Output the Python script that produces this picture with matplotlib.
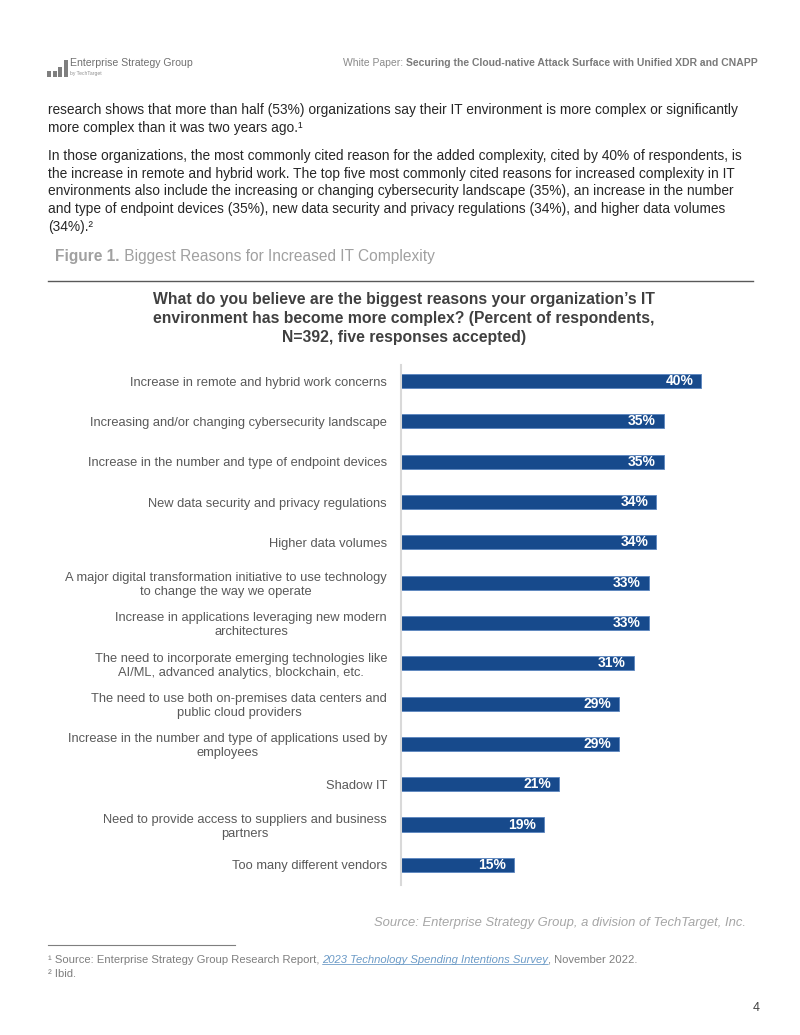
import matplotlib.pyplot as plt
from matplotlib.patches import Rectangle

plt.rcParams['font.family'] = ['Liberation Sans', 'DejaVu Sans']

# Chart data
reasons = [
    'Increase in remote and hybrid work concerns',
    'Increasing and/or changing cybersecurity landscape',
    'Increase in the number and type of endpoint devices',
    'New data security and privacy regulations',
    'Higher data volumes',
    'A major digital transformation initiative to use technology\nto change the way we operate',
    'Increase in applications leveraging new modern\narchitectures',
    'The need to incorporate emerging technologies like\nAI/ML, advanced analytics, blockchain, etc.',
    'The need to use both on-premises data centers and\npublic cloud providers',
    'Increase in the number and type of applications used by\nemployees',
    'Shadow IT',
    'Need to provide access to suppliers and business\npartners',
    'Too many different vendors',
]
percents = [40, 35, 35, 34, 34, 33, 33, 31, 29, 29, 21, 19, 15]

chart_title = ("What do you believe are the biggest reasons your organization\u2019s IT\n"
               "environment has become more complex? (Percent of respondents,\n"
               "N=392, five responses accepted)")

para1 = ["research shows that more than half (53%) organizations say their IT environment is more complex or significantly",
         "more complex than it was two years ago.\u00b9"]
para2 = ["In those organizations, the most commonly cited reason for the added complexity, cited by 40% of respondents, is",
         "the increase in remote and hybrid work. The top five most commonly cited reasons for increased complexity in IT",
         "environments also include the increasing or changing cybersecurity landscape (35%), an increase in the number",
         "and type of endpoint devices (35%), new data security and privacy regulations (34%), and higher data volumes",
         "(34%).\u00b2"]

W, H = 800, 1035
fig = plt.figure(figsize=(W / 100, H / 100), dpi=100)
page = fig.add_axes([0, 0, 1, 1])
page.axis('off')
page.set_xlim(0, W)
page.set_ylim(H, 0)

dark = '#262626'
bar_col = '#174a8c'

# header logo
for x0, y0, h in [(47, 71, 6), (52.5, 71, 6), (58, 67, 10), (63.5, 60, 17)]:
    page.add_patch(Rectangle((x0, y0), 4, h, color='#7f7f7f', lw=0))
page.text(70, 63, 'Enterprise Strategy Group', fontsize=7.6, color='#707070', va='center')
page.text(70, 74, 'by TechTarget', fontsize=3.6, color='#909090', va='center')

hb = page.text(758, 63, 'Securing the Cloud-native Attack Surface with Unified XDR and CNAPP',
               fontsize=7.5, color='#7a7a7a', weight='bold', ha='right', va='center')
page.annotate('White Paper: ', xy=(0, 0.5), xycoords=hb, ha='right', va='center',
              fontsize=7.5, color='#8a8a8a', annotation_clip=False)

# body text
for i, line in enumerate(para1):
    page.text(48, 110 + i * 17.8, line, fontsize=9.9, color=dark, va='center')
for i, line in enumerate(para2):
    page.text(48, 156 + i * 17.7, line, fontsize=9.9, color=dark, va='center')

# figure caption
fb = page.text(55, 256, 'Figure 1.', fontsize=11.2, color='#a0a0a0', weight='bold', va='center')
page.annotate(' Biggest Reasons for Increased IT Complexity', xy=(1, 0.5), xycoords=fb,
              va='center', fontsize=11.2, color='#a0a0a0', annotation_clip=False)
page.plot([48, 753], [281, 281], color='#595959', lw=1)

page.text(404, 318.5, chart_title, fontsize=11.3, weight='bold', color='#404040',
          ha='center', va='center', linespacing=1.32)

# bar chart
ax = fig.add_axes([401 / W, 1 - 885 / H, 375 / W, 520 / H])
ypos = list(range(len(reasons)))
ax.barh(ypos, percents, height=0.35, color=bar_col, edgecolor='#5b86c0', linewidth=0.6)
for y, v in zip(ypos, percents):
    ax.text(v - 1.0, y, f'{v}%', color='white', weight='bold', fontsize=10,
            ha='right', va='center')
ax.set_xlim(0, 50)
ax.set_ylim(12.5, -0.4)
ax.set_yticks(ypos)
ax.set_yticklabels(reasons, fontsize=9.3, color='#595959', linespacing=1.2)
for lab in ax.get_yticklabels():
    lab.set_horizontalalignment('right')
    lab.set_multialignment('center')
ax.tick_params(axis='y', length=0, pad=10)
ax.set_xticks([])
for s in ['top', 'right', 'bottom']:
    ax.spines[s].set_visible(False)
ax.spines['left'].set_color('#d9d9d9')
ax.spines['left'].set_linewidth(1.5)

# source and footnotes
page.text(746, 923, 'Source: Enterprise Strategy Group, a division of TechTarget, Inc.',
          fontsize=9.4, style='italic', color='#a6a6a6', ha='right', va='center')
page.plot([48, 235], [945, 945], color='#7f7f7f', lw=0.8)
f1 = page.text(48, 960, '\u00b9 Source: Enterprise Strategy Group Research Report, ',
               fontsize=8.1, color='#7f7f7f', va='center')
lk = page.annotate('2023 Technology Spending Intentions Survey', xy=(1, 0.5), xycoords=f1,
                   va='center', fontsize=8.1, color='#6c9bc7', style='italic', annotation_clip=False)
page.annotate('', xy=(0, 0.05), xytext=(1, 0.05), xycoords=lk, textcoords=lk,
              arrowprops=dict(arrowstyle='-', color='#6c9bc7', lw=0.6, shrinkA=0, shrinkB=0),
              annotation_clip=False)
page.annotate(', November 2022.', xy=(1, 0.5), xycoords=lk, va='center', fontsize=8.1,
              color='#7f7f7f', annotation_clip=False)
page.text(48, 974, '\u00b2 Ibid.', fontsize=8.1, color='#7f7f7f', va='center')
page.text(760, 1008, '4', fontsize=9, color='#404040', ha='right', va='center')

fig.savefig('out.png', dpi=100, facecolor='white')
